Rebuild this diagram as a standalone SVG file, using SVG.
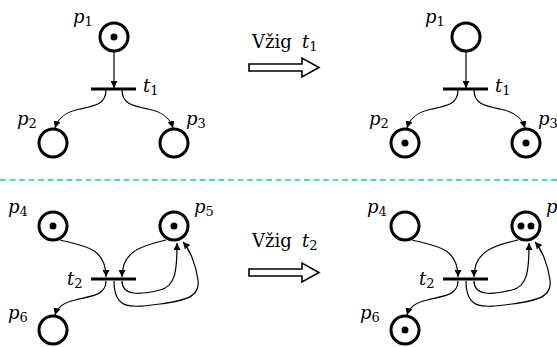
<svg xmlns="http://www.w3.org/2000/svg" width="557" height="347" viewBox="0 0 557 347">
<style>
.place{fill:#fff;stroke:#000;stroke-width:3}
.tok{fill:#000}
.bar{fill:#000}
.arc{fill:none;stroke:#000;stroke-width:1.2;marker-end:url(#ah)}
.lbl{font-size:18px;font-style:italic;fill:#000}
.sub{font-style:normal;font-size:13px}
.cap{font-size:18px;fill:#000}
.big{fill:#fff;stroke:#000;stroke-width:1.6}
.sep{stroke:#00d8a8;stroke-width:1.6;stroke-dasharray:6,3.5}
</style>
<defs>
<marker id="ah" viewBox="0 0 10 10" refX="10" refY="5" markerWidth="7" markerHeight="7" markerUnits="userSpaceOnUse" orient="auto">
<path d="M0,0 L10,5 L0,10 Z" fill="#000"/>
</marker>
</defs>
<rect width="557" height="347" fill="#fff"/>
<line class="sep" x1="0" y1="180" x2="557" y2="180"/>

<g id="connectors">
<path class="arc" d="M114,52 L114,88"/>
<path class="arc" d="M106,90 C106,104 95,106 80,109 C65,112 58,118 55,128"/>
<path class="arc" d="M122,90 C122,104 133,106 148,109 C163,112 170,118 173,128"/>
<path class="arc" d="M466,52 L466,88"/>
<path class="arc" d="M458,90 C458,104 447,106 432,109 C417,112 410,118 407,128"/>
<path class="arc" d="M474,90 C474,104 485,106 500,109 C515,112 522,118 525,128"/>
<path class="arc" d="M60,240 C85,246 106,248 106,277"/>
<path class="arc" d="M106,281 C106,296 90,296 75,300 C62,303 57,308 55,315"/>
<path class="arc" d="M166,240 C140,246 122,252 122,277"/>
<path class="arc" d="M122,281 C122,296 140,295 160,290 C176,286 177,270 177,243"/>
<path class="arc" d="M114,281 C114,310 130,308 160,304 C190,300 200,295 198,280 C196,265 190,250 183,242"/>
<path class="arc" d="M412,240 C437,246 458,248 458,277"/>
<path class="arc" d="M458,281 C458,296 442,296 427,300 C414,303 409,308 407,315"/>
<path class="arc" d="M518,240 C492,246 474,252 474,277"/>
<path class="arc" d="M474,281 C474,296 492,295 512,290 C528,286 529,270 529,243"/>
<path class="arc" d="M466,281 C466,310 482,308 512,304 C542,300 552,295 550,280 C548,265 542,250 535,242"/>
</g>

<g font-family="DejaVu Serif, serif">
<g id="p1a"><circle class="place" cx="114" cy="37" r="14"/><circle class="tok" cx="114" cy="37" r="3.5"/><text font-family="DejaVu Serif, serif" class="lbl" x="73" y="23">p<tspan class="sub" dy="3">1</tspan></text></g>
<g id="t1a"><rect class="bar" x="91" y="87.5" width="45" height="3"/><text font-family="DejaVu Serif, serif" class="lbl" x="143" y="92">t<tspan class="sub" dy="3">1</tspan></text></g>
<g id="p2a"><circle class="place" cx="53" cy="143" r="14"/><text font-family="DejaVu Serif, serif" class="lbl" x="17" y="125">p<tspan class="sub" dy="3">2</tspan></text></g>
<g id="p3a"><circle class="place" cx="174" cy="143" r="14"/><text font-family="DejaVu Serif, serif" class="lbl" x="186" y="125">p<tspan class="sub" dy="3">3</tspan></text></g>

<g id="p1b"><circle class="place" cx="466" cy="37" r="14"/><text font-family="DejaVu Serif, serif" class="lbl" x="425" y="23">p<tspan class="sub" dy="3">1</tspan></text></g>
<g id="t1b"><rect class="bar" x="443" y="87.5" width="45" height="3"/><text font-family="DejaVu Serif, serif" class="lbl" x="495" y="92">t<tspan class="sub" dy="3">1</tspan></text></g>
<g id="p2b"><circle class="place" cx="405" cy="143" r="14"/><circle class="tok" cx="405" cy="143" r="3.5"/><text font-family="DejaVu Serif, serif" class="lbl" x="369" y="125">p<tspan class="sub" dy="3">2</tspan></text></g>
<g id="p3b"><circle class="place" cx="526" cy="143" r="14"/><circle class="tok" cx="526" cy="143" r="3.5"/><text font-family="DejaVu Serif, serif" class="lbl" x="538" y="125">p<tspan class="sub" dy="3">3</tspan></text></g>

<g id="fire1"><text font-family="DejaVu Serif, serif" class="cap" x="252" y="48">Vžig <tspan class="lbl" x="302">t</tspan><tspan class="sub" dy="3">1</tspan></text>
<polygon class="big" points="249,64 302,64 302,58 319,67.5 302,77 302,71 249,71"/></g>

<g id="p4a"><circle class="place" cx="53" cy="226" r="14"/><circle class="tok" cx="53" cy="226" r="3.5"/><text font-family="DejaVu Serif, serif" class="lbl" x="8" y="213">p<tspan class="sub" dy="3">4</tspan></text></g>
<g id="p5a"><circle class="place" cx="174" cy="226" r="14"/><circle class="tok" cx="174" cy="226" r="3.5"/><text font-family="DejaVu Serif, serif" class="lbl" x="194" y="213">p<tspan class="sub" dy="3">5</tspan></text></g>
<g id="t2a"><rect class="bar" x="91" y="277.5" width="45" height="3"/><text font-family="DejaVu Serif, serif" class="lbl" x="67" y="285">t<tspan class="sub" dy="3">2</tspan></text></g>
<g id="p6a"><circle class="place" cx="53" cy="330" r="14"/><text font-family="DejaVu Serif, serif" class="lbl" x="8" y="319">p<tspan class="sub" dy="3">6</tspan></text></g>

<g id="p4b"><circle class="place" cx="405" cy="226" r="14"/><text font-family="DejaVu Serif, serif" class="lbl" x="367" y="213">p<tspan class="sub" dy="3">4</tspan></text></g>
<g id="p5b"><circle class="place" cx="526" cy="226" r="14"/><circle class="tok" cx="521" cy="226" r="3.5"/><circle class="tok" cx="531" cy="226" r="3.5"/><text font-family="DejaVu Serif, serif" class="lbl" x="546" y="213">p<tspan class="sub" dy="3">5</tspan></text></g>
<g id="t2b"><rect class="bar" x="443" y="277.5" width="45" height="3"/><text font-family="DejaVu Serif, serif" class="lbl" x="419" y="285">t<tspan class="sub" dy="3">2</tspan></text></g>
<g id="p6b"><circle class="place" cx="405" cy="330" r="14"/><circle class="tok" cx="405" cy="330" r="3.5"/><text font-family="DejaVu Serif, serif" class="lbl" x="360" y="319">p<tspan class="sub" dy="3">6</tspan></text></g>

<g id="fire2"><text font-family="DejaVu Serif, serif" class="cap" x="252" y="247">Vžig <tspan class="lbl" x="302">t</tspan><tspan class="sub" dy="3">2</tspan></text>
<polygon class="big" points="249,269 302,269 302,263 319,272.5 302,282 302,276 249,276"/></g>
</g>
</svg>
